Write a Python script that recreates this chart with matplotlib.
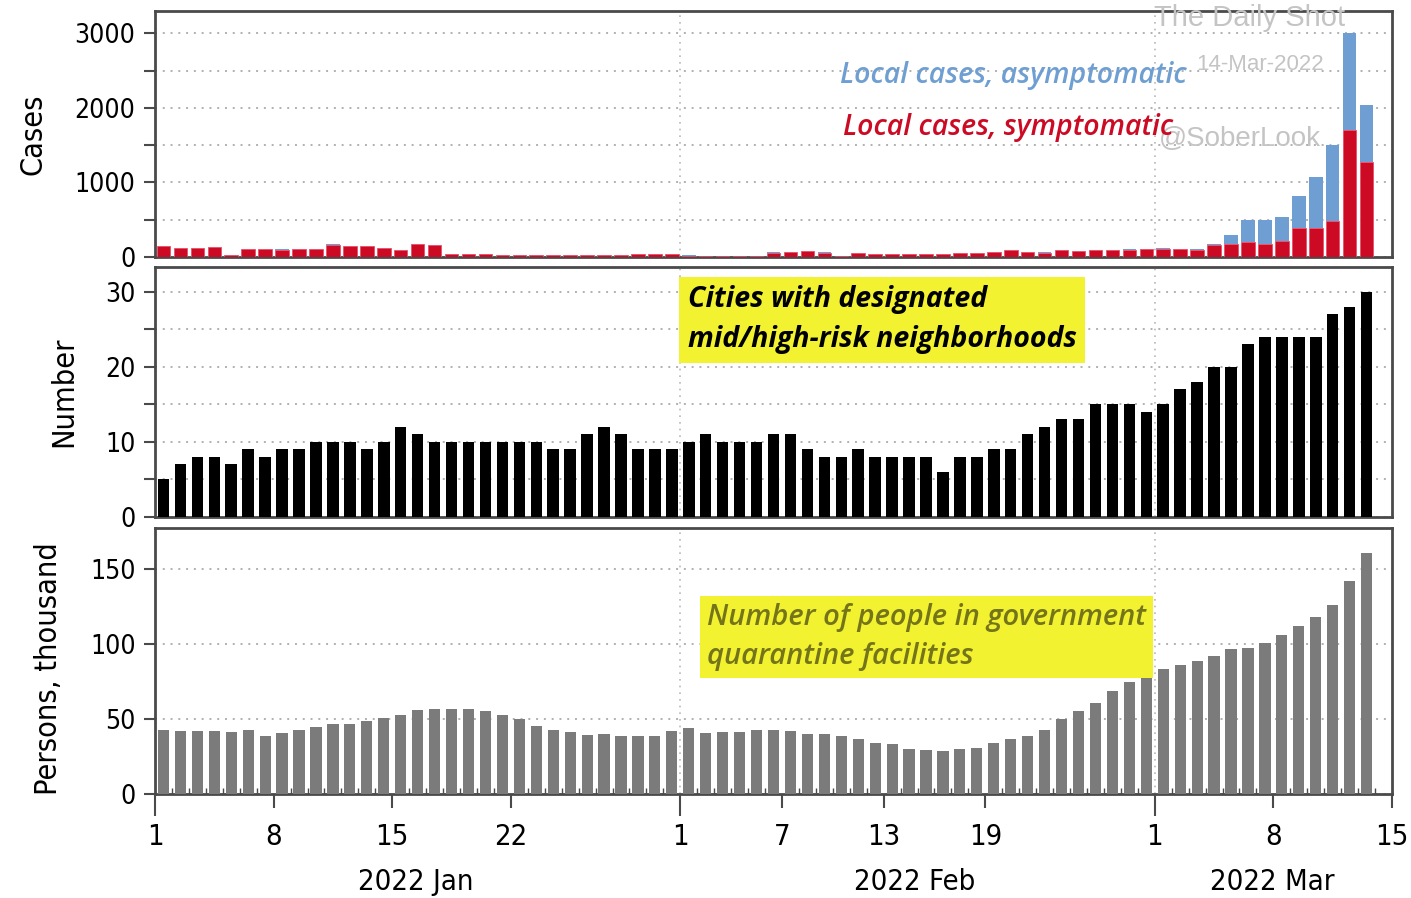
import matplotlib
matplotlib.use('Agg')
import matplotlib.pyplot as plt
import matplotlib.dates as mdates
from matplotlib.ticker import MultipleLocator
import pandas as pd

# daily data, 1 Jan - 13 Mar 2022
dias = pd.date_range('2022-01-01', '2022-03-13', freq='D')

sintomaticos = [150, 115, 120, 130, 30, 110, 105, 100, 110, 105,
                165, 150, 150, 120, 95, 175, 160, 45, 40, 35,
                30, 25, 25, 30, 25, 25, 30, 30, 45, 35, 40,
                20, 15, 15, 10, 15, 60, 70, 80, 60, 15,
                55, 40, 40, 45, 40, 45, 50, 50, 70, 90,
                70, 60, 90, 85, 95, 90, 100, 105,
                110, 105, 100, 165, 180, 205, 180, 215, 395, 385, 480, 1700, 1270]
assintomaticos = [2, 2, 2, 2, 1, 2, 2, 2, 2, 2,
                  3, 3, 3, 2, 2, 3, 3, 1, 1, 1,
                  1, 1, 1, 1, 1, 1, 1, 1, 1, 1, 1,
                  1, 1, 1, 1, 1, 2, 2, 2, 2, 1,
                  1, 1, 1, 1, 1, 1, 1, 1, 2, 2,
                  2, 2, 2, 2, 2, 2, 2, 3,
                  5, 5, 10, 15, 115, 295, 310, 315, 425, 685, 1020, 1300, 775]
cidades = [5, 7, 8, 8, 7, 9, 8, 9, 9, 10,
           10, 10, 9, 10, 12, 11, 10, 10, 10, 10,
           10, 10, 10, 9, 9, 11, 12, 11, 9, 9, 9,
           10, 11, 10, 10, 10, 11, 11, 9, 8, 8,
           9, 8, 8, 8, 8, 6, 8, 8, 9, 9,
           11, 12, 13, 13, 15, 15, 15, 14,
           15, 17, 18, 20, 20, 23, 24, 24, 24, 24, 27, 28, 30]
quarentena = [43, 42, 42, 42, 41.5, 43, 39, 41, 43, 45,
              47, 47, 49, 51, 53, 56, 56.5, 57, 57, 55.5,
              53, 50, 45.5, 43, 41.5, 39.5, 40, 38.5, 38.5, 38.5, 42,
              44, 40.5, 41.5, 41.5, 43, 43, 42, 40, 40, 38.5,
              37, 34, 33.5, 30, 29.5, 29, 30, 30.5, 34, 36.5,
              39, 43, 50, 55.5, 61, 69, 74.5, 78.5,
              83.5, 86, 89, 92, 96.5, 97.5, 101, 106, 112, 118, 126, 142, 161]

rotulos_dias = ['2022-01-01', '2022-01-08', '2022-01-15', '2022-01-22',
                '2022-02-01', '2022-02-07', '2022-02-13', '2022-02-19',
                '2022-03-01', '2022-03-08', '2022-03-15']

# bars sit in the middle of each day
x = dias + pd.Timedelta(hours=12)

plt.rcParams['font.family'] = ['DejaVu Sans']
plt.rcParams['font.stretch'] = 'condensed'
plt.rcParams['font.size'] = 19

W, H = 1411, 898
fig = plt.figure(figsize=(W / 100, H / 100), dpi=100)

def caixa(y_top, y_bot):
    return [155 / W, 1 - y_bot / H, (1392 - 155) / W, (y_bot - y_top) / H]

ax1 = fig.add_axes(caixa(11, 257))
ax2 = fig.add_axes(caixa(267, 517), sharex=ax1)
ax3 = fig.add_axes(caixa(528, 794), sharex=ax1)

# Casos
ax1.bar(x, sintomaticos, width=0.8, color='#cc0a24', edgecolor='#e8506a', linewidth=0.6, zorder=3)
ax1.bar(x, assintomaticos, bottom=sintomaticos, width=0.8, color='#6f9fd2', linewidth=0, zorder=3)
ax1.set_ylim(0, 3300)
ax1.yaxis.set_major_locator(MultipleLocator(1000))
ax1.yaxis.set_minor_locator(MultipleLocator(500))
ax1.set_ylabel('Cases', fontsize=22)
ax1.yaxis.set_label_coords(-0.087, 0.5)

# Cidades
ax2.bar(x, cidades, width=0.68, color='black', zorder=3)
ax2.set_ylim(0, 33.3)
ax2.yaxis.set_major_locator(MultipleLocator(10))
ax2.yaxis.set_minor_locator(MultipleLocator(5))
ax2.set_ylabel('Number', fontsize=22)
ax2.yaxis.set_label_coords(-0.062, 0.5)

# Quarentena
ax3.bar(x, quarentena, width=0.66, color='#7b7b7b', zorder=3)
ax3.set_ylim(0, 177.6)
ax3.yaxis.set_major_locator(MultipleLocator(50))
ax3.set_ylabel('Persons, thousand', fontsize=22)
ax3.yaxis.set_label_coords(-0.074, 0.47)

for ax in (ax1, ax2, ax3):
    ax.set_xlim(pd.Timestamp('2022-01-01'), pd.Timestamp('2022-03-15'))
    for s in ax.spines.values():
        s.set_color('#4a4a4a')
        s.set_linewidth(2)
    ax.grid(axis='y', which='both', color='#b0b0b0', linestyle=(0, (1, 3)), linewidth=1.4, zorder=0)
    for d in ('2022-02-01', '2022-03-01'):
        ax.axvline(pd.Timestamp(d), color='#b8b8b8', linestyle=(0, (1, 3)), linewidth=1.2, zorder=0)
    ax.tick_params(axis='y', which='major', length=8, width=1.5, color='#4a4a4a', pad=6)
    ax.tick_params(axis='y', which='minor', length=8, width=1.5, color='#4a4a4a')
    ax.tick_params(axis='x', which='both', bottom=False, labelbottom=False)

ax3.set_xticks([pd.Timestamp(d) for d in rotulos_dias])
ax3.set_xticklabels([str(pd.Timestamp(d).day) for d in rotulos_dias], fontsize=21)
ax3.xaxis.set_minor_locator(mdates.DayLocator())
ax3.tick_params(axis='x', which='major', bottom=True, labelbottom=True, length=10, width=1.5,
                color='#4a4a4a', pad=11)
ax3.tick_params(axis='x', which='minor', bottom=True, direction='in', length=4, width=1, color='#4a4a4a')
for t, d in zip(ax3.xaxis.get_major_ticks(), rotulos_dias):
    if d.endswith('-01'):
        t.tick1line.set_markersize(16)

# months
for xm, nome in [(416, '2022 Jan'), (915, '2022 Feb'), (1272, '2022 Mar')]:
    fig.text(xm / W, 1 - 882 / H, nome, ha='center', va='center', fontsize=21)

# marca d'agua
cinza = '#c4c4c4'
fig.text(1250 / W, 1 - 18 / H, 'The Daily Shot', ha='center', va='center', fontsize=21,
         color=cinza, family='Liberation Sans', zorder=1)
fig.text(1196 / W, 1 - 64 / H, '14-Mar-2022', ha='left', va='center', fontsize=16,
         color=cinza, family='Liberation Sans', zorder=1)
fig.text(1240 / W, 1 - 139 / H, '@SoberLook', ha='center', va='center', fontsize=20,
         color=cinza, family='Liberation Sans', zorder=1)

# annotations
fig.text(840 / W, 1 - 76 / H, 'Local cases, asymptomatic', ha='left', va='center', fontsize=20.5,
         color='#6f9fd2', style='italic', weight='semibold', family='Open Sans', zorder=5)
fig.text(843 / W, 1 - 128 / H, 'Local cases, symptomatic', ha='left', va='center', fontsize=20.5,
         color='#cc0a24', style='italic', weight='semibold', family='Open Sans', zorder=5)

fig.text(688 / W, 1 - 320 / H, 'Cities with designated\nmid/high-risk neighborhoods', ha='left',
         va='center', fontsize=20.5, color='black', style='italic', weight='bold', family='Open Sans',
         linespacing=1.5, zorder=5,
         bbox=dict(boxstyle='square,pad=0.3', facecolor='#f2f230', edgecolor='none'))
fig.text(707 / W, 1 - 637 / H, 'Number of people in government\nquarantine facilities', ha='left',
         va='center', fontsize=21, color='#74741a', style='italic', weight='semibold', family='Open Sans',
         linespacing=1.45, zorder=5,
         bbox=dict(boxstyle='square,pad=0.25', facecolor='#f2f230', edgecolor='none'))

plt.savefig('out.png', dpi=100)
